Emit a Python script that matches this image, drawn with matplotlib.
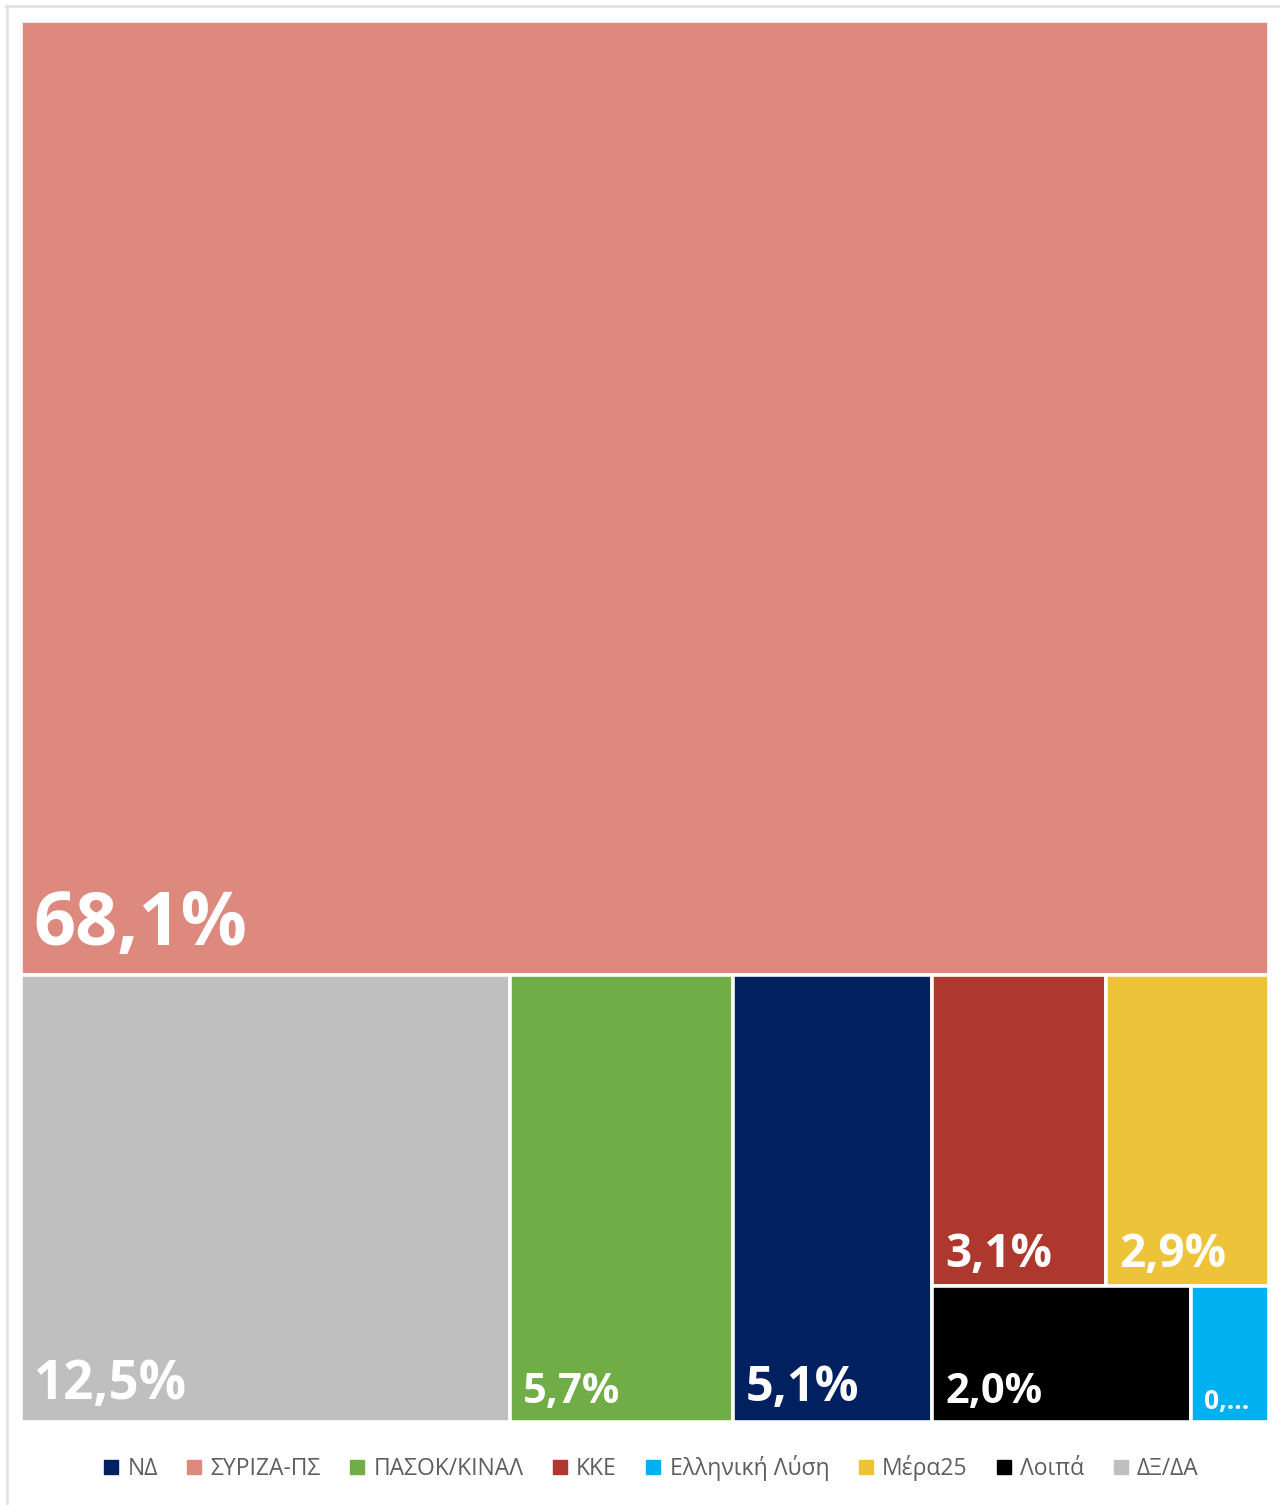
""" TREEMAP - vote shares """
import matplotlib.pyplot as plt
from matplotlib.patches import Rectangle
from matplotlib.lines import Line2D

plt.rcParams['font.family'] = ['Open Sans', 'DejaVu Sans']

# legend order
parties = ['ΝΔ', 'ΣΥΡΙΖΑ-ΠΣ', 'ΠΑΣΟΚ/ΚΙΝΑΛ', 'ΚΚΕ', 'Ελληνική Λύση', 'Μέρα25', 'Λοιπά', 'ΔΞ/ΔΑ']
shares = [5.1, 68.1, 5.7, 3.1, 0.6, 2.9, 2.0, 12.5]
labels = ['5,1%', '68,1%', '5,7%', '3,1%', '0,...', '2,9%', '2,0%', '12,5%']
colors = ['#002060', '#DD897E', '#70AD47', '#AE372E', '#00B0F0', '#EDC33A', '#000000', '#BFBFBF']
label_sizes = [35, 53, 30, 33, 19, 33, 30, 38]

# how many cells (largest first) go into each strip of the treemap
strip_counts = [1, 1, 1, 1, 2, 1, 1]

W, H = 1248, 1401  # plot area in pixels


def layout(vals, counts, x, y, w, h):
    rects = []
    pos = 0
    for n in counts:
        row = vals[pos:pos + n]
        pos += n
        s = sum(row)
        if w >= h:
            cw = s / h
            yy = y
            for r in row:
                rects.append((x, yy, cw, r / cw))
                yy += r / cw
            x += cw
            w -= cw
        else:
            rh = s / w
            xx = x
            for r in row:
                rects.append((xx, y, r / rh, rh))
                xx += r / rh
            y += rh
            h -= rh
    return rects


order = sorted(range(len(shares)), key=lambda i: -shares[i])
total = sum(shares)
areas = [shares[i] / total * W * H for i in order]
rects = layout(areas, strip_counts, 0, 0, W, H)

fig = plt.figure(figsize=(12.8, 15.05), dpi=100)
ax = fig.add_axes([20.5 / 1280, (1505 - 1421.5) / 1505, W / 1280, H / 1505])
ax.set_xlim(0, W)
ax.set_ylim(H, 0)
ax.axis('off')

for k, i in enumerate(order):
    x, y, w, h = rects[k]
    ax.add_patch(Rectangle((x, y), w, h, facecolor=colors[i], edgecolor='white', lw=2.6))
    fs = label_sizes[i]
    ax.text(x + 13, y + h - (0.5 * fs + 3), labels[i], color='white', fontsize=fs,
            fontweight='bold', ha='left', va='baseline')

handles = [Line2D([], [], marker='s', linestyle='none', markersize=9.5, color=c) for c in colors]
fig.legend(handles, parties, loc='center', bbox_to_anchor=(651 / 1280, 1 - 1468 / 1505),
           ncol=8, frameon=False, fontsize=16.5, handlelength=0.7, handletextpad=0.35,
           columnspacing=1.25, labelcolor='#605E5C')

# light frame on top and left
fig.add_artist(Line2D([6 / 1280, 1], [1 - 5.5 / 1505] * 2, transform=fig.transFigure, color='#E3E3E3', lw=2))
fig.add_artist(Line2D([6.5 / 1280] * 2, [0, 1 - 5.5 / 1505], transform=fig.transFigure, color='#E3E3E3', lw=2))

fig.savefig('out.png', dpi=100)
